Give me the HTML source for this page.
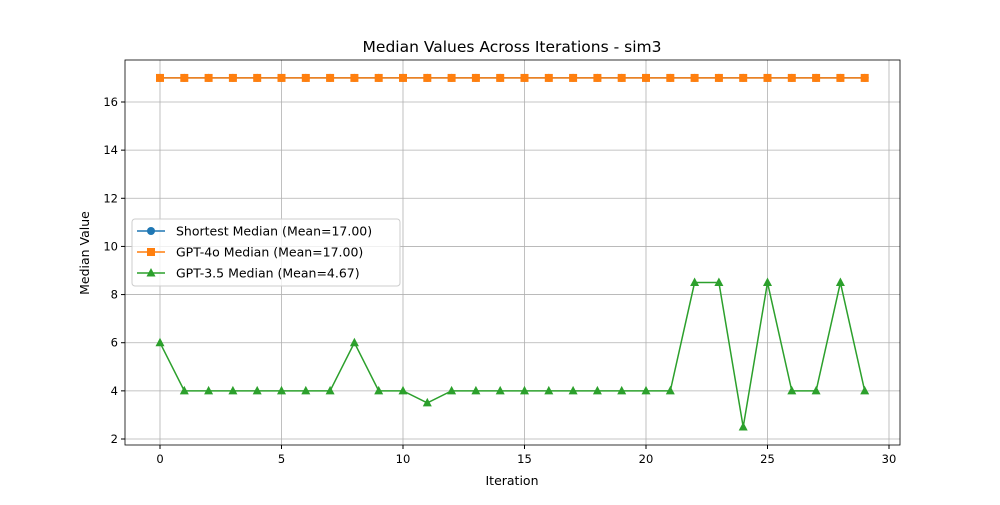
<!DOCTYPE html>
<html><head><meta charset="utf-8"><style>
body{margin:0;background:#fff;font-family:"Liberation Sans","DejaVu Sans",sans-serif}
</style></head><body>
<svg id="chart" width="1000" height="500" xmlns="http://www.w3.org/2000/svg" font-family="DejaVu Sans, Liberation Sans, sans-serif"></svg>
<script>
const iterations=[...Array(30).keys()];
const shortestValues=[17,17,17,17,17,17,17,17,17,17,17,17,17,17,17,17,17,17,17,17,17,17,17,17,17,17,17,17,17,17];
const gpt4oValues=[17,17,17,17,17,17,17,17,17,17,17,17,17,17,17,17,17,17,17,17,17,17,17,17,17,17,17,17,17,17];
const gpt35Values=[6,4,4,4,4,4,4,4,6,4,4,3.5,4,4,4,4,4,4,4,4,4,4,8.5,8.5,2.5,8.5,4,4,8.5,4];
const xTicks=[0,5,10,15,20,25,30];
const yTicks=[2,4,6,8,10,12,14,16];
const legendLabels=["Shortest Median (Mean=17.00)","GPT-4o Median (Mean=17.00)","GPT-3.5 Median (Mean=4.67)"];
const L=125,R=900,T=60,B=445;
const xs=v=>160+v*(889-160)/30;
const ys=v=>439-(v-2)*(439-102)/14;
const svg=document.getElementById('chart');
const NS='http://www.w3.org/2000/svg';
function mk(tag,attrs,parent){const e=document.createElementNS(NS,tag);for(const k in attrs)e.setAttribute(k,attrs[k]);(parent||svg).appendChild(e);return e;}
const grid=mk('g',{});


xTicks.forEach(t=>{mk('line',{x1:xs(t),x2:xs(t),y1:T,y2:B,stroke:'#b0b0b0','stroke-width':0.8},grid);
 mk('line',{x1:xs(t),x2:xs(t),y1:B,y2:B+4,stroke:'#000'});
 const tx=mk('text',{x:xs(t),y:B+18,'text-anchor':'middle','font-size':11.5});tx.textContent=t;
 
 });
yTicks.forEach(t=>{mk('line',{x1:L,x2:R,y1:ys(t),y2:ys(t),stroke:'#b0b0b0','stroke-width':0.8},grid);
 mk('line',{x1:L-4,x2:L,y1:ys(t),y2:ys(t),stroke:'#000'});
 const tx=mk('text',{x:L-7,y:ys(t)+4,'text-anchor':'end','font-size':11.5});tx.textContent=t;
 
 });
function series(vals,color,marker,name){
 const g=mk('g',{});
 
 
 mk('polyline',{points:vals.map((v,i)=>xs(iterations[i])+','+ys(v)).join(' '),fill:'none',stroke:color,'stroke-width':1.5},g);
 vals.forEach((v,i)=>drawMarker(g,xs(iterations[i]),ys(v),color,marker));
}
function drawMarker(g,x,y,c,m){
 if(m==='o')mk('circle',{cx:x,cy:y,r:4,fill:c},g);
 else if(m==='s')mk('rect',{x:x-4,y:y-4,width:8,height:8,fill:c},g);
 else mk('polygon',{points:`${x},${y-5} ${x-4.5},${y+3.5} ${x+4.5},${y+3.5}`,fill:c},g);
}
series(shortestValues,'#1f77b4','o','series-shortest');
series(gpt4oValues,'#ff7f0e','s','series-gpt4o');
series(gpt35Values,'#2ca02c','^','series-gpt35');
mk('rect',{x:L,y:T,width:R-L,height:B-T,fill:'none',stroke:'#000','stroke-width':0.8});
const title=mk('text',{x:512,y:52,'text-anchor':'middle','font-size':15.5});title.textContent='Median Values Across Iterations - sim3';


const xl=mk('text',{x:512,y:485,'text-anchor':'middle','font-size':12.5});xl.textContent='Iteration';


const yl=mk('text',{x:89,y:253,'text-anchor':'middle','font-size':12.5,transform:'rotate(-90 89 253)'});yl.textContent='Median Value';


const lg=mk('g',{});


mk('rect',{x:132,y:219,width:268,height:67,rx:3,fill:'#fff','fill-opacity':0.8,stroke:'#ccc'},lg);
const cols=['#1f77b4','#ff7f0e','#2ca02c'],mks=['o','s','^'];
legendLabels.forEach((lab,i)=>{const y=231+i*21;
 mk('line',{x1:137,x2:165,y1:y,y2:y,stroke:cols[i],'stroke-width':1.5},lg);
 drawMarker(lg,151,y,cols[i],mks[i]);
 const t=mk('text',{x:176,y:y+4.5,'font-size':12.5},lg);t.textContent=lab;
 
 });
</script>
</body></html>
